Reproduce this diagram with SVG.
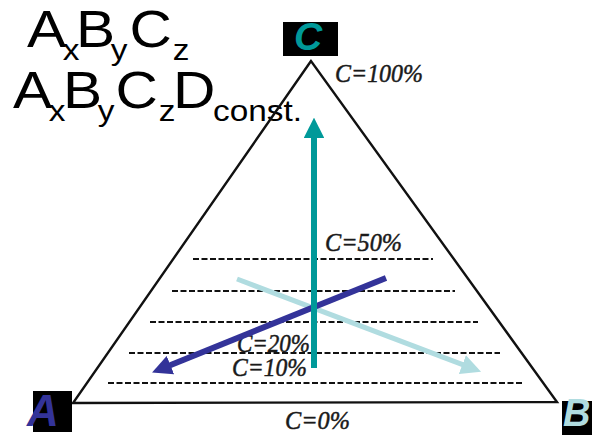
<svg xmlns="http://www.w3.org/2000/svg" width="592" height="435" viewBox="0 0 592 435">
<style>
.ttl{font-family:"Liberation Sans",Arial,sans-serif;fill:#000}
.big{font-size:51px}
.sub{font-size:29px}
.lbl{font-family:"Liberation Serif","Times New Roman",serif;font-style:italic;font-size:25px;fill:#1a1a1a;stroke:#1a1a1a;stroke-width:0.5}
.dash{stroke:#111;stroke-width:1.8;stroke-dasharray:6 2.5;fill:none}
.corner{font-family:"Liberation Sans",Arial,sans-serif;font-weight:bold;font-style:italic}
</style>
<defs>
<marker id="hTeal" viewBox="0 0 10 10" refX="0.5" refY="5" markerWidth="3.4" markerHeight="3.4" orient="auto" markerUnits="strokeWidth"><path d="M0,0L10,5L0,10z" fill="#009999"/></marker>
<marker id="hBlue" viewBox="0 0 10 10" refX="0.5" refY="5" markerWidth="3.3" markerHeight="3.3" orient="auto" markerUnits="strokeWidth"><path d="M0,0L10,5L0,10z" fill="#333399"/></marker>
<marker id="hCyan" viewBox="0 0 10 10" refX="0.5" refY="5" markerWidth="4" markerHeight="4" orient="auto" markerUnits="strokeWidth"><path d="M0,0L10,5L0,10z" fill="#B0DCE0"/></marker>
</defs>
<rect width="592" height="435" fill="#fff"/>

<g id="formula" transform="scale(1.15,1)">
<text class="ttl"><tspan class="big" x="23.5" y="47">A</tspan><tspan class="sub" x="54.5" y="60">x</tspan><tspan class="big" x="66.1" y="47">B</tspan><tspan class="sub" x="96.3" y="60">y</tspan><tspan class="big" x="112.6" y="47">C</tspan><tspan class="sub" x="150.2" y="60">z</tspan></text>
<text class="ttl"><tspan class="big" x="11.3" y="108">A</tspan><tspan class="sub" x="42.3" y="121">x</tspan><tspan class="big" x="54.8" y="108">B</tspan><tspan class="sub" x="84.9" y="121">y</tspan><tspan class="big" x="100.4" y="108">C</tspan><tspan class="sub" x="138" y="121">z</tspan><tspan class="big" x="150.4" y="108">D</tspan><tspan class="sub" x="185.2" y="121">const.</tspan></text>
</g>

<g id="triangle">
<path d="M311,61 L73,403 L557,402 Z" fill="none" stroke="#111" stroke-width="2.4" stroke-linejoin="miter"/>
</g>

<g id="isolines">
<line class="dash" x1="193" y1="259" x2="433" y2="259"/>
<line class="dash" x1="172" y1="291" x2="455" y2="291"/>
<line class="dash" x1="150" y1="322" x2="478" y2="322"/>
<line class="dash" x1="129" y1="353" x2="500" y2="353"/>
<line class="dash" x1="108" y1="383" x2="522" y2="383"/>
</g>

<g id="labels">
<text class="lbl" x="335" y="82" textLength="88" lengthAdjust="spacingAndGlyphs">C=100%</text>
<text class="lbl" x="325" y="251" textLength="77" lengthAdjust="spacingAndGlyphs">C=50%</text>
<text class="lbl" x="237" y="352" textLength="73" lengthAdjust="spacingAndGlyphs">C=20%</text>
<text class="lbl" x="232" y="376" textLength="75" lengthAdjust="spacingAndGlyphs">C=10%</text>
<text class="lbl" x="285" y="429" textLength="65" lengthAdjust="spacingAndGlyphs">C=0%</text>
</g>

<g id="connectors">
<line x1="237" y1="279" x2="463.3" y2="364.9" stroke="#B0DCE0" stroke-width="5" marker-end="url(#hCyan)"/>
<line x1="386" y1="278" x2="169.5" y2="365.5" stroke="#333399" stroke-width="6" marker-end="url(#hBlue)"/>
<line x1="314" y1="368" x2="314" y2="137" stroke="#009999" stroke-width="6" marker-end="url(#hTeal)"/>
</g>

<g id="node-C">
<rect x="283" y="22" width="55" height="34" fill="#000"/>
<text class="corner" x="294" y="50" font-size="39" fill="#009999">C</text>
</g>
<g id="node-A">
<rect x="33" y="391" width="39" height="41" fill="#000"/>
<text class="corner" x="27" y="426" font-size="44" fill="#333399">A</text>
</g>
<g id="node-B">
<rect x="562" y="401" width="40" height="34" fill="#000"/>
<text class="corner" x="563" y="426" font-size="38" fill="#B0DCE0">B</text>
</g>
</svg>
